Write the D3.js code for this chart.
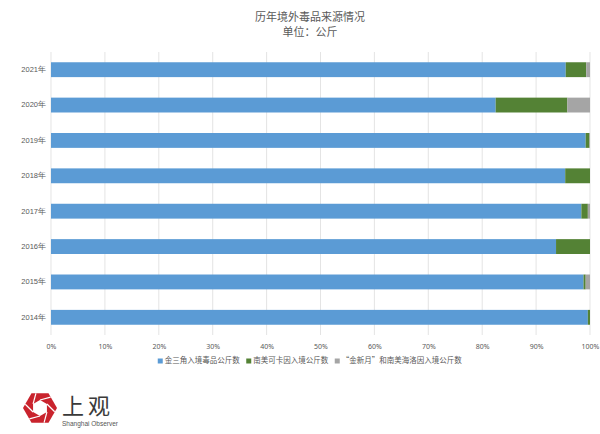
<!DOCTYPE html>
<html>
<head>
<meta charset="utf-8">
<script src="https://cdn.jsdelivr.net/npm/d3@7"></script>
<style>
  body { margin: 0; background: #fff; }
  svg { display: block; font-family: "Noto Sans CJK SC", "Noto Sans", sans-serif; }
</style>
</head>
<body>
<div id="chart"></div>
<script>
// data (shares in %)
const years = ['2021年', '2020年', '2019年', '2018年', '2017年', '2016年', '2015年', '2014年'];
const goldenTriangle = [95.5, 82.5, 99.2, 95.4, 98.4, 93.7, 98.8, 99.6];
const southAmericaCocaine = [3.8, 13.3, 0.7, 4.6, 1.2, 6.3, 0.4, 0.4];
const crescentHeroin = [0.7, 4.2, 0.1, 0.0, 0.4, 0.0, 0.8, 0.0];
const seriesNames = ['金三角入境毒品公斤数', '南美可卡因入境公斤数', '“金新月”和南美海洛因入境公斤数'];
const seriesColors = ['#5b9bd5', '#548235', '#a5a5a5'];
const xTicks = [0, 10, 20, 30, 40, 50, 60, 70, 80, 90, 100];

const width = 600, height = 434;
const margin = { top: 52, right: 10, bottom: 99, left: 51 };

const svg = d3.select('#chart')
  .append('svg')
  .attr('width', width)
  .attr('height', height);

// title
svg.append('text')
  .attr('x', 310).attr('y', 21)
  .attr('text-anchor', 'middle')
  .attr('font-size', 11)
  .attr('fill', '#595959')
  .text('历年境外毒品来源情况');
svg.append('text')
  .attr('x', 310).attr('y', 35.5)
  .attr('text-anchor', 'middle')
  .attr('font-size', 11)
  .attr('fill', '#595959')
  .text('单位：公斤');

const x = d3.scaleLinear()
  .domain([0, 100])
  .range([margin.left, width - margin.right]);

const y = d3.scaleBand()
  .domain(years)
  .range([margin.top, height - margin.bottom])
  .paddingInner(0.58)
  .paddingOuter(0.29);

// grid lines
svg.append('g')
  .selectAll('line')
  .data(xTicks)
  .enter()
  .append('line')
  .attr('x1', d => x(d)).attr('x2', d => x(d))
  .attr('y1', margin.top).attr('y2', height - margin.bottom)
  .attr('stroke', '#d9d9d9')
  .attr('stroke-width', 0.7);

// x axis labels
const xAxis = svg.append('g')
  .attr('transform', `translate(0, ${height - margin.bottom})`)
  .call(d3.axisBottom(x).tickValues(xTicks).tickFormat(d => d + '%').tickSize(0).tickPadding(9));
xAxis.select('.domain').remove();
xAxis.selectAll('text')
  .attr('font-size', 7)
  .attr('fill', '#595959')
  .attr('font-family', '"Noto Sans", sans-serif');

// y axis labels
const yAxis = svg.append('g')
  .attr('transform', `translate(${margin.left}, 0)`)
  .call(d3.axisLeft(y).tickSize(0).tickPadding(5));
yAxis.select('.domain').remove();
yAxis.selectAll('text')
  .attr('font-size', 7.5)
  .attr('fill', '#595959');

// stacked bars
const rows = years.map((yr, i) => ({
  year: yr,
  s0: goldenTriangle[i],
  s1: southAmericaCocaine[i],
  s2: crescentHeroin[i]
}));
const stack = d3.stack().keys(['s0', 's1', 's2']);
const layers = stack(rows);

svg.append('g')
  .selectAll('g')
  .data(layers)
  .enter()
  .append('g')
  .attr('fill', (d, i) => seriesColors[i])
  .selectAll('rect')
  .data(d => d)
  .enter()
  .append('rect')
  .attr('x', d => x(d[0]))
  .attr('y', d => y(d.data.year))
  .attr('width', d => x(d[1]) - x(d[0]))
  .attr('height', y.bandwidth());

// legend
const legend = svg.append('g').attr('transform', 'translate(0, 363)');
const legendItems = legend.selectAll('g')
  .data(seriesNames)
  .enter()
  .append('g');
legendItems.append('rect')
  .attr('width', 5).attr('height', 5)
  .attr('y', -4.5)
  .attr('fill', (d, i) => seriesColors[i]);
legendItems.append('text')
  .attr('x', 7)
  .attr('font-size', 7.5)
  .attr('fill', '#595959')
  .text(d => d);
// lay them out side by side, centered
let offset = 0;
const widths = [];
legendItems.each(function() {
  widths.push(this.getBBox().width);
});
const total = d3.sum(widths) + 6 * (widths.length - 1);
let start = 310 - total / 2;
legendItems.attr('transform', (d, i) => {
  const t = `translate(${start + offset}, 0)`;
  offset += widths[i] + 6;
  return t;
});

// logo
const logo = svg.append('g').attr('transform', 'translate(40, 408)');
const hex = (r, rot) => d3.range(6).map(k => {
  const a = rot + k * Math.PI / 3;
  return [r * Math.cos(a), r * Math.sin(a)];
});
logo.append('polygon')
  .attr('points', hex(17, 0).join(' '))
  .attr('fill', '#c9232d');
logo.append('polygon')
  .attr('points', hex(8, Math.PI / 6).join(' '))
  .attr('fill', '#fff');
// shutter blades
logo.selectAll('line')
  .data(hex(8, Math.PI / 6))
  .enter()
  .append('line')
  .attr('x1', d => d[0]).attr('y1', d => d[1])
  .attr('x2', (d, i) => {
    const a = Math.PI / 6 + i * Math.PI / 3 + Math.PI / 2.4;
    return d[0] + 11 * Math.cos(a);
  })
  .attr('y2', (d, i) => {
    const a = Math.PI / 6 + i * Math.PI / 3 + Math.PI / 2.4;
    return d[1] + 11 * Math.sin(a);
  })
  .attr('stroke', '#fff')
  .attr('stroke-width', 1.2);

svg.append('text')
  .attr('x', 62).attr('y', 414)
  .attr('font-size', 22)
  .attr('letter-spacing', 4)
  .attr('fill', '#3a3a3a')
  .text('上观');
svg.append('text')
  .attr('x', 62).attr('y', 426)
  .attr('font-size', 6.5)
  .attr('font-family', '"Liberation Sans", sans-serif')
  .attr('fill', '#555')
  .text('Shanghai Observer');
</script>
</body>
</html>
